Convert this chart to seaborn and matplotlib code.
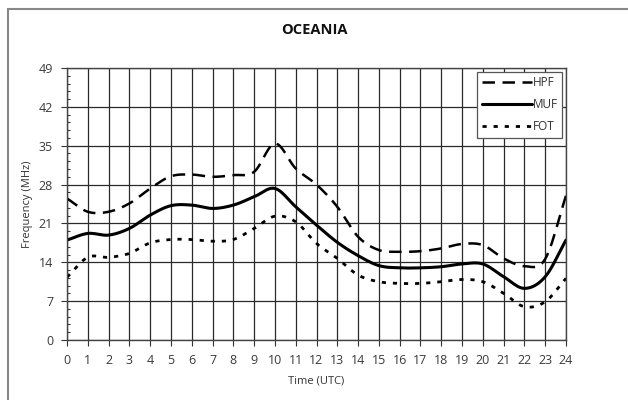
import matplotlib
matplotlib.use("Agg")
import matplotlib.pyplot as plt
from matplotlib.lines import Line2D
from matplotlib.patches import Rectangle
import numpy as np
import pandas as pd
import seaborn as sns

hours = list(range(25))
hpf = [25.5, 23.1, 23.1, 24.6, 27.3, 29.5, 29.8, 29.4, 29.7, 30.3, 35.4, 30.9, 28.0,
       24.0, 18.6, 16.2, 15.9, 16.0, 16.5, 17.3, 17.1, 14.7, 13.3, 14.6, 26.0]
muf = [18.0, 19.2, 18.9, 20.1, 22.5, 24.2, 24.3, 23.7, 24.3, 25.8, 27.3, 24.0, 20.7,
       17.6, 15.2, 13.4, 13.0, 13.0, 13.2, 13.7, 13.7, 11.4, 9.3, 11.4, 18.0]
fot = [11.3, 14.9, 14.9, 15.6, 17.5, 18.1, 18.1, 17.8, 18.1, 20.1, 22.3, 21.3, 17.4,
       14.7, 11.7, 10.5, 10.2, 10.2, 10.5, 10.9, 10.5, 8.4, 6.0, 6.9, 11.1]
series_names = ["HPF", "MUF", "FOT"]
y_ticks = [0, 7, 14, 21, 28, 35, 42, 49]


def smooth(x, y, n=12):
    """Catmull-Rom smoothing through every point (spreadsheet-style smoothed line)."""
    x = np.asarray(x, float)
    y = np.asarray(y, float)
    px = np.concatenate([[2 * x[0] - x[1]], x, [2 * x[-1] - x[-2]]])
    py = np.concatenate([[2 * y[0] - y[1]], y, [2 * y[-1] - y[-2]]])
    xs, ys = [], []
    t = np.linspace(0, 1, n, endpoint=False)
    for i in range(1, len(px) - 2):
        for arr, out in ((px, xs), (py, ys)):
            p0, p1, p2, p3 = arr[i - 1], arr[i], arr[i + 1], arr[i + 2]
            out.extend(0.5 * ((2 * p1) + (-p0 + p2) * t
                              + (2 * p0 - 5 * p1 + 4 * p2 - p3) * t ** 2
                              + (-p0 + 3 * p1 - 3 * p2 + p3) * t ** 3))
    xs.append(x[-1])
    ys.append(y[-1])
    return np.array(xs), np.array(ys)


sns.set_theme(style="white")
plt.rcParams["font.family"] = ["Open Sans", "DejaVu Sans"]

frames = []
for name, vals in zip(series_names, [hpf, muf, fot]):
    sx, sy = smooth(hours, vals)
    frames.append(pd.DataFrame({"hour": sx, "freq": sy, "series": name}))
df = pd.concat(frames, ignore_index=True)

fig = plt.figure(figsize=(6.28, 4.0), dpi=100)
ax = fig.add_axes([67 / 628, 60 / 400, 499 / 628, 272 / 400])

styles = {"HPF": dict(dashes=(5, 3), lw=1.8),
          "MUF": dict(dashes=(), lw=2.2),
          "FOT": dict(dashes=(1.5, 2.5), lw=2.0)}
for name in series_names:
    sub = df[df["series"] == name]
    sns.lineplot(data=sub, x="hour", y="freq", ax=ax, color="black",
                 lw=styles[name]["lw"], legend=False, sort=False,
                 estimator=None)
    ln = ax.get_lines()[-1]
    if styles[name]["dashes"]:
        ln.set_dashes(styles[name]["dashes"])

ax.set_xlim(0, 24)
ax.set_ylim(0, 49)
ax.set_xticks(hours)
ax.set_yticks(y_ticks)
ax.set_yticks(np.arange(0, 49.01, 1.4), minor=True)
ax.grid(True, which="major", color="#2a2a2a", lw=0.9)
ax.set_axisbelow(True)
for s in ax.spines.values():
    s.set_color("#444444")
    s.set_linewidth(1.0)
ax.tick_params(axis="both", which="major", length=4, width=0.8, color="#333333",
               labelsize=9, labelcolor="#3a3a3a", direction="out", pad=6)
ax.tick_params(axis="y", which="minor", length=2, width=0.8, color="#333333",
               direction="in", left=True)
ax.tick_params(axis="x", which="major", bottom=True)
ax.tick_params(axis="y", which="major", left=True)

ax.set_xlabel("Time (UTC)", fontsize=8, color="#333333", labelpad=6)
ax.set_ylabel("Frequency (MHz)", fontsize=8, color="#333333", labelpad=4)
fig.text(0.5, 1 - 30 / 400, "OCEANIA", ha="center", va="center",
         fontsize=10.5, fontweight="bold", color="#111111")

handles = []
for n in series_names:
    h = Line2D([], [], color="black", lw=styles[n]["lw"])
    if styles[n]["dashes"]:
        h.set_dashes(styles[n]["dashes"])
    handles.append(h)
leg = ax.legend(handles, series_names, loc="upper right", fontsize=8.5,
                frameon=True, fancybox=False, edgecolor="#555555",
                framealpha=1, borderpad=0.4, handlelength=4.2,
                handletextpad=0.1, labelspacing=0.75, borderaxespad=0.3)
leg.get_frame().set_linewidth(0.9)
for t in leg.get_texts():
    t.set_color("#333333")

# outer frame around the chart area
fig.patches.append(Rectangle((8 / 628, -0.1), 1.2, 1 - 9 / 400 + 0.1,
                             transform=fig.transFigure, fill=False,
                             edgecolor="#888888", lw=1.5))

fig.savefig("out.png", dpi=100)
